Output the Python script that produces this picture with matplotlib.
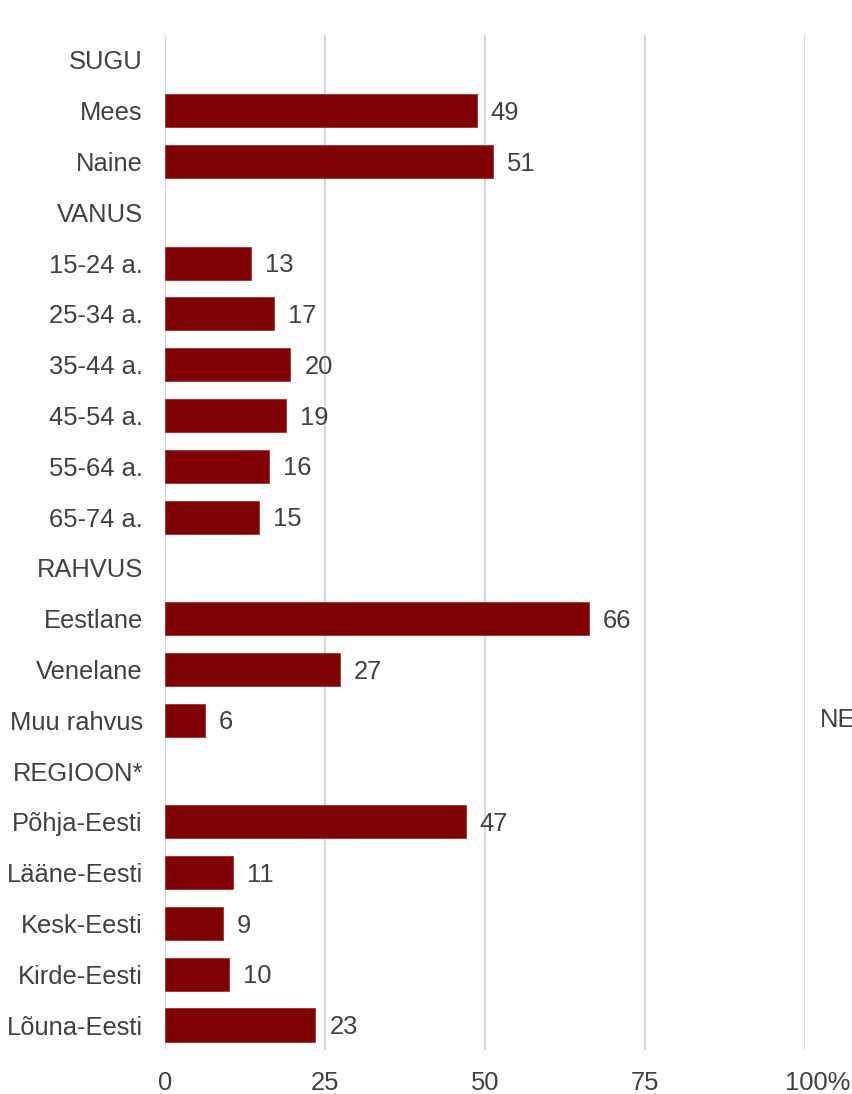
import matplotlib
matplotlib.use("Agg")
import matplotlib.pyplot as plt
from matplotlib.transforms import ScaledTranslation

plt.rcParams['font.family'] = ['Liberation Sans', 'DejaVu Sans']

categories = ["SUGU", "Mees", "Naine", "VANUS", "15-24 a.", "25-34 a.", "35-44 a.",
              "45-54 a.", "55-64 a.", "65-74 a.", "RAHVUS", "Eestlane", "Venelane",
              "Muu rahvus", "REGIOON*", "Põhja-Eesti", "Lääne-Eesti", "Kesk-Eesti",
              "Kirde-Eesti", "Lõuna-Eesti"]
values = [None, 49, 51, None, 13, 17, 20, 19, 16, 15, None, 66, 27, 6, None,
          47, 11, 9, 10, 23]
bar_lengths = [None, 48.7, 51.2, None, 13.4, 17.0, 19.6, 18.9, 16.3, 14.7, None,
               66.3, 27.3, 6.3, None, 47.0, 10.7, 9.0, 10.0, 23.5]
xticks = [0, 25, 50, 75, 100]
xticklabels = ["0", "25", "50", "75", "100%"]

W, H = 853, 1094
fig = plt.figure(figsize=(W / 100, H / 100), dpi=100)
left, right = 165 / W, 805 / W
top, bottom = 1 - 34.6 / H, 1 - 1050.4 / H
ax = fig.add_axes([left, bottom, right - left, top - bottom])

bar_color = "#7f0000"
text_color = "#404040"
fs = 18.4

ys = list(range(len(categories)))
for y, v, b in zip(ys, values, bar_lengths):
    if v is None:
        continue
    ax.barh(y, b, height=0.65, color=bar_color, edgecolor="#a03030", linewidth=0.6, zorder=3)
    ax.annotate(str(v), xy=(b, y), xytext=(10, -1.5), textcoords="offset points",
                va="center", ha="left", fontsize=fs, color=text_color)

ax.set_xlim(0, 100)
ax.set_ylim(len(categories) - 0.5, -0.5)
ax.set_yticks(ys)
ax.set_yticklabels(categories, fontsize=fs, color=text_color)
ax.set_xticks(xticks)
ax.set_xticklabels(xticklabels, fontsize=fs, color=text_color)
ax.tick_params(axis="y", length=0, pad=16)
ax.tick_params(axis="x", length=0, pad=15)
ax.grid(axis="x", color="#d9d9d9", linewidth=1.6, zorder=0)
ax.set_axisbelow(True)
for s in ax.spines.values():
    s.set_visible(False)

# shift the "100%" label slightly right
lab = ax.get_xticklabels()[-1]
lab.set_transform(lab.get_transform() + ScaledTranslation(0.13, 0, fig.dpi_scale_trans))

fig.text(820 / W, 1 - 720 / H, "NE", fontsize=fs, color=text_color, va="center", ha="left")

fig.savefig("out.png", dpi=100)
